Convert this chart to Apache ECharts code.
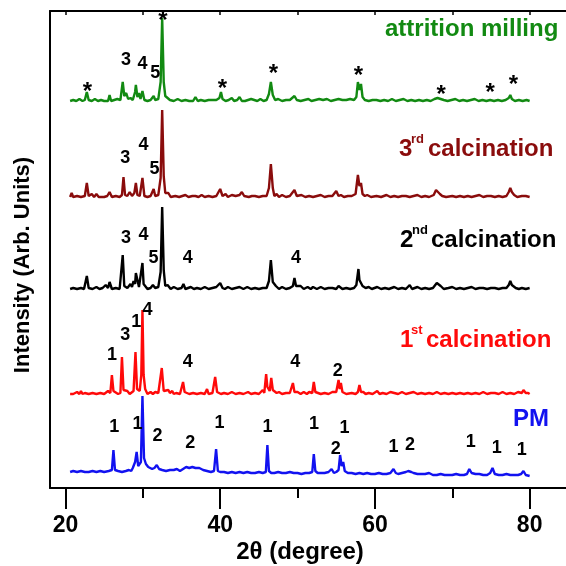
<!DOCTYPE html>
<html>
<head>
<meta charset="utf-8">
<script src="https://cdn.jsdelivr.net/npm/echarts@6/dist/echarts.min.js"></script>
<style>
  html, body { margin: 0; padding: 0; background: #fff; }
  #main { width: 566px; height: 566px; }
</style>
</head>
<body>
<div id="main"></div>
<script>
// 各曲线的基线偏移（Arb. Units）
const offsets = { milling: 386, third: 290, second: 198, first: 93, pm: 12 }

// 衍射数据 [2θ, 强度]
const millingPts = [[20.6,1],[21,2],[21.4,1],[21.8,3],[22.2,1],[22.5,2],[22.76,10],[23.0,2],[23.4,1],[23.8,3],[24.2,1],[24.6,2],[25.0,1],[25.5,1],[25.7,7],[25.9,1],[26.3,2],[26.7,3],[27.1,2],[27.4,20],[27.6,6],[27.85,9],[28.1,3],[28.4,4],[28.7,2],[29.0,10],[29.1,17],[29.3,5],[29.5,9],[29.7,3],[29.95,11],[30.2,2],[30.6,1],[31.0,2],[31.4,6],[31.6,2],[32.0,3],[32.3,20],[32.5,84],[32.7,20],[32.9,6],[33.2,4],[33.5,2],[34.0,1],[34.5,3],[35.0,1],[35.5,2],[36.0,1],[36.5,1],[36.8,5],[37.1,1],[37.5,2],[38.0,1],[38.5,2],[39.0,2],[39.5,2],[39.9,4],[40.1,10],[40.3,3],[40.7,1],[41.1,2],[41.5,4],[41.8,1],[42.2,2],[42.5,5],[42.8,1],[43.2,1],[43.6,2],[44.0,3],[44.4,2],[44.8,1],[45.2,3],[45.6,1],[46.0,2],[46.3,8],[46.55,20],[46.8,7],[47.1,2],[47.5,3],[48.0,1],[48.5,2],[49.0,2],[49.6,6],[49.9,2],[50.4,1],[50.9,2],[51.4,3],[51.8,1],[52.3,2],[52.8,3],[53.3,2],[53.8,3],[54.3,1],[54.8,2],[55.3,3],[55.8,2],[56.3,2],[56.8,3],[57.3,2],[57.6,5],[57.8,20],[58.0,12],[58.2,18],[58.4,5],[58.7,2],[59.2,1],[59.7,2],[60.2,2],[60.7,1],[61.2,2],[61.7,1],[62.2,3],[62.7,1],[63.2,2],[63.7,3],[64.2,1],[64.7,2],[65.2,1],[65.7,2],[66.2,1],[66.7,2],[67.2,1],[67.7,3],[68.1,4],[68.5,3],[68.9,2],[69.4,1],[69.9,2],[70.4,3],[70.9,1],[71.4,2],[71.9,1],[72.4,2],[72.9,3],[73.4,1],[73.9,2],[74.4,1],[74.9,2],[75.4,1],[75.9,2],[76.4,1],[76.9,2],[77.3,4],[77.5,7],[77.7,3],[78.1,1],[78.6,2],[79.1,1],[79.6,2],[80.0,1]]

const thirdPts = [[20.6,1],[20.8,5],[21.0,1],[21.5,2],[22.0,1],[22.5,2],[22.76,15],[23.0,2],[23.4,4],[23.7,1],[24.0,4],[24.3,1],[24.5,3],[25.0,1],[25.4,2],[25.7,6],[26.0,1],[26.5,2],[27.0,1],[27.3,3],[27.5,21],[27.7,3],[28.0,2],[28.3,6],[28.6,2],[28.9,5],[29.1,15],[29.3,3],[29.6,2],[29.95,20],[30.2,2],[30.6,1],[31.0,2],[31.4,9],[31.6,2],[32.0,3],[32.3,20],[32.5,88],[32.7,22],[32.9,5],[33.3,5],[33.6,1],[34.2,2],[34.7,1],[35.1,2],[35.5,3],[35.9,1],[36.4,2],[36.8,2],[37.2,1],[37.6,3],[38.0,1],[38.5,2],[39.0,1],[39.5,2],[40.0,9],[40.3,2],[40.7,4],[41.0,1],[41.5,3],[42.0,2],[42.5,3],[42.8,6],[43.1,2],[43.3,3],[43.7,1],[44.1,2],[44.5,2],[45.0,1],[45.5,2],[46.0,2],[46.3,10],[46.55,34],[46.8,10],[47.0,2],[47.3,4],[47.6,1],[48.0,3],[48.5,1],[49.0,2],[49.6,8],[49.9,2],[50.5,3],[51.0,1],[51.5,2],[52.0,1],[52.5,2],[53.0,3],[53.5,1],[54.0,2],[54.5,2],[55.0,7],[55.3,2],[55.6,3],[56.0,1],[56.5,2],[57.0,2],[57.5,4],[57.8,23],[58.0,12],[58.2,15],[58.4,4],[58.7,2],[59.0,3],[59.5,1],[60.2,2],[60.8,1],[61.5,3],[62.0,1],[62.5,2],[63.0,1],[63.5,2],[64.0,2],[64.5,1],[65.0,2],[65.5,3],[66.0,1],[66.5,2],[67.0,1],[67.6,3],[67.9,8],[68.1,10],[68.4,4],[68.7,2],[69.2,1],[70.0,2],[70.5,1],[71.0,2],[71.5,1],[72.0,2],[72.5,1],[73.0,2],[73.5,3],[74.0,1],[74.5,2],[75.0,2],[75.5,1],[76.0,2],[76.5,1],[77.0,2],[77.3,6],[77.5,10],[77.7,6],[78.0,3],[78.4,1],[79.0,2],[79.5,2],[80.0,1]]

const secondPts = [[20.6,1],[21.0,2],[21.5,1],[22.0,2],[22.4,1],[22.6,3],[22.76,14],[23.0,2],[23.5,1],[24.0,3],[24.4,1],[24.8,2],[25.2,5],[25.5,2],[25.7,8],[26.0,1],[26.5,2],[27.0,1],[27.2,3],[27.4,35],[27.6,4],[28.0,2],[28.4,6],[28.6,3],[28.8,9],[29.0,6],[29.1,17],[29.3,10],[29.5,3],[29.7,4],[29.95,27],[30.1,6],[30.3,5],[30.6,1],[31.0,2],[31.3,5],[31.6,2],[32.0,3],[32.3,18],[32.5,83],[32.7,20],[32.9,4],[33.2,5],[33.6,1],[34.0,3],[34.5,1],[35.0,2],[35.25,6],[35.5,1],[36.2,3],[36.6,1],[37.0,2],[37.5,1],[38.0,3],[38.5,1],[39.0,2],[39.5,3],[40.0,7],[40.3,2],[40.6,1],[41.0,3],[41.5,1],[42.0,2],[42.5,3],[43.0,1],[43.5,3],[44.0,1],[44.5,2],[45.0,1],[45.5,2],[46.0,2],[46.3,9],[46.55,30],[46.8,8],[47.2,4],[47.6,1],[48.0,3],[48.5,1],[49.0,2],[49.4,4],[49.6,12],[49.8,4],[50.4,4],[50.8,1],[51.3,3],[51.7,1],[52.0,3],[52.5,1],[53.0,3],[53.5,1],[54.0,2],[54.5,2],[55.0,1],[55.3,4],[55.8,1],[56.3,2],[56.8,1],[57.3,2],[57.6,5],[57.87,21],[58.0,10],[58.2,12],[58.4,4],[58.8,2],[59.2,3],[59.6,1],[60.3,3],[60.8,1],[61.3,2],[61.8,1],[62.5,3],[63.0,1],[63.5,2],[64.0,1],[64.5,5],[64.8,1],[65.5,3],[66.0,1],[66.5,2],[67.0,1],[67.5,2],[68.0,7],[68.2,5],[68.5,4],[68.9,1],[69.5,2],[70.0,3],[70.5,1],[71.0,2],[71.5,1],[72.0,2],[72.5,3],[73.0,1],[73.5,2],[74.0,2],[74.5,1],[75.0,2],[75.5,2],[76.0,1],[76.5,2],[77.0,2],[77.3,5],[77.5,9],[77.7,5],[77.9,5],[78.2,2],[78.6,1],[79.0,2],[79.5,1],[80.0,2]]

const firstPts = [[20.6,1],[20.8,3],[21.0,1],[21.5,3],[21.8,1],[22.0,4],[22.2,1],[22.5,2],[23.0,1],[23.5,2],[24.0,1],[24.5,2],[25.0,1],[25.5,4],[25.8,2],[26.0,20],[26.2,4],[26.4,3],[26.8,1],[27.1,2],[27.3,38],[27.5,5],[27.7,5],[28.0,4],[28.3,1],[28.5,3],[28.8,4],[29.05,43],[29.25,6],[29.4,6],[29.6,4],[29.8,20],[29.95,85],[30.1,20],[30.3,6],[30.6,1],[31.0,3],[31.3,1],[31.6,3],[32.0,2],[32.2,4],[32.45,27],[32.7,4],[32.9,4],[33.3,5],[33.5,2],[33.8,4],[34.0,1],[34.3,2],[34.8,1],[35.0,3],[35.2,13],[35.4,3],[35.6,3],[36.0,1],[36.5,2],[37.0,1],[37.5,2],[38.0,1],[38.3,6],[38.5,1],[39.0,2],[39.35,18],[39.6,3],[39.8,4],[40.1,1],[40.5,2],[41.0,1],[41.5,3],[42.0,1],[42.5,2],[43.0,1],[43.6,3],[44.0,1],[44.5,2],[45.0,1],[45.5,5],[45.7,2],[45.94,21],[46.1,8],[46.2,8],[46.4,4],[46.6,17],[46.8,5],[47.0,5],[47.3,2],[47.6,3],[48.0,1],[48.5,2],[49.0,2],[49.4,12],[49.6,3],[50.0,3],[50.4,1],[50.8,3],[51.2,1],[51.5,3],[51.9,2],[52.1,13],[52.3,3],[52.5,3],[53.0,1],[53.5,2],[54.0,1],[54.5,3],[55.0,3],[55.3,15],[55.45,6],[55.6,12],[55.8,3],[56.0,5],[56.3,1],[56.5,3],[57.0,2],[57.5,1],[57.8,3],[58.0,10],[58.2,3],[58.5,3],[58.8,1],[59.2,2],[59.7,1],[60.3,4],[60.6,1],[61.0,2],[61.5,1],[62.0,3],[62.5,2],[63.0,1],[63.5,3],[64.0,1],[64.5,2],[65.0,3],[65.5,1],[66.0,2],[66.5,1],[67.0,2],[67.5,1],[68.0,3],[68.5,1],[69.0,2],[69.5,1],[70.0,2],[70.5,1],[71.0,2],[71.5,1],[72.0,2],[72.2,4],[72.5,1],[73.0,2],[73.5,1],[74.0,3],[74.5,1],[75.0,2],[75.5,2],[76.0,1],[76.5,3],[77.0,1],[77.5,2],[78.0,1],[78.5,3],[79.0,2],[79.2,5],[79.5,2],[79.8,2],[80.0,1]]

const pmPts = [[20.6,4],[21.0,5],[21.5,4],[22.0,5],[22.5,4],[23.0,4],[23.5,5],[24.0,4],[24.5,5],[25.0,4],[25.6,5],[26.0,6],[26.2,26],[26.4,6],[26.8,5],[27.3,4],[27.8,5],[28.2,6],[28.5,5],[28.7,8],[29.0,14],[29.2,24],[29.4,10],[29.6,10],[29.75,14],[29.95,80],[30.15,18],[30.4,12],[30.7,9],[31.2,7],[31.5,8],[31.8,11],[32.1,7],[32.5,6],[33.0,5],[33.5,6],[34.0,6],[34.4,7],[34.8,5],[35.2,7],[35.6,9],[36.0,8],[36.4,9],[36.8,8],[37.3,8],[37.8,6],[38.3,5],[38.8,4],[39.2,5],[39.47,27],[39.7,5],[40.0,4],[40.5,4],[41.0,3],[41.5,4],[42.0,3],[42.5,4],[43.0,3],[43.5,4],[44.0,3],[44.5,3],[45.0,4],[45.5,3],[45.9,4],[46.1,31],[46.3,5],[46.6,3],[47.0,3],[47.5,4],[48.0,3],[48.5,3],[49.0,4],[49.5,3],[50.0,3],[50.5,2],[51.0,3],[51.5,3],[51.9,4],[52.1,22],[52.3,5],[52.6,3],[53.0,3],[53.5,3],[54.0,4],[54.4,7],[54.7,3],[55.0,4],[55.3,6],[55.5,21],[55.7,10],[55.9,14],[56.1,5],[56.5,3],[57.0,3],[57.5,2],[58.0,3],[58.5,2],[59.0,3],[59.5,2],[60.0,2],[60.5,3],[61.0,2],[61.5,2],[62.0,3],[62.4,7],[62.7,3],[63.0,2],[63.5,3],[64.0,4],[64.3,5],[64.7,4],[65.0,3],[65.5,2],[66.0,2],[66.5,2],[67.0,3],[67.5,1],[68.0,1],[68.5,2],[69.0,1],[69.5,1],[70.0,1],[70.5,2],[71.0,1],[71.5,1],[71.9,2],[72.2,7],[72.5,3],[73.0,2],[73.5,2],[74.0,1],[74.5,1],[74.9,3],[75.2,8],[75.5,2],[76.0,1],[76.5,1],[77.0,2],[77.5,1],[78.0,1],[78.5,1],[78.9,2],[79.2,5],[79.5,1],[80.0,0]]

// 峰标注 [2θ, 位置, 文字]
const peakLabels = [
  [27.84,428,'3'],[29.95,424,'4'],[31.59,415,'5'],
  [27.72,330,'3'],[30.08,343,'4'],[31.5,319,'5'],
  [27.81,250,'3'],[30.08,253,'4'],[31.37,230,'5'],[35.82,230,'4'],[49.81,230,'4'],
  [26.0,133,'1'],[27.72,153,'3'],[29.14,166,'1'],[30.6,178,'4'],[35.82,126,'4'],[49.69,126,'4'],[55.2,117,'2'],
  [26.29,61,'1'],[29.3,64,'1'],[31.89,52,'2'],[36.12,45,'2'],[39.9,65,'1'],[46.1,61,'1'],[52.14,64,'1'],
  [54.94,39,'2'],[56.06,60,'1'],[62.39,41,'1'],[64.55,43,'2'],[72.39,46,'1'],[75.75,40,'1'],[78.98,38,'1']
]
// 星号标注 [2θ, 位置]
const starLabels = [[22.84,402],[32.59,473],[40.29,405],[46.88,420],[57.87,418],[68.55,399],[74.89,401],[77.9,409]]

// 坐标轴刻度
const majorTicks = [20, 40, 60, 80]
const minorTicks = [30, 50, 70]
const topTicks = [20, 30, 40, 50, 60, 70, 80]

const FONT = '"Liberation Sans", Arial, sans-serif'

// 加上基线偏移
const lift = (pts, off) => pts.map(p => [p[0], p[1] + off])

const chart = echarts.init(document.getElementById('main'))

const traceSeries = (name, pts, off, color) => ({
  name: name,
  type: 'line',
  data: lift(pts, off),
  showSymbol: false,
  silent: true,
  animation: false,
  lineStyle: { color: color, width: 2.4 },
  z: 3
})

const labelSeries = (data, text, size, offset) => ({
  type: 'scatter', silent: true, symbolSize: 0, z: 5,
  itemStyle: { opacity: 1 },
  data: data,
  label: {
    show: true, position: 'inside', offset: offset,
    formatter: text,
    color: '#000', opacity: 1, fontSize: size, fontWeight: 'bold', fontFamily: FONT
  }
})

const options = {
  animation: false,
  grid: { left: 50, top: 11, right: -41, bottom: 78, outerBoundsMode: 'none', containLabel: false },
  xAxis: [
    {
      // 底部主刻度
      type: 'value', min: 18, max: 90, position: 'bottom',
      axisLine: { show: true, lineStyle: { color: '#000', width: 2 } },
      axisTick: { show: true, customValues: majorTicks, length: 21, lineStyle: { color: '#000', width: 2 } },
      axisLabel: { show: true, customValues: majorTicks, margin: 26, color: '#000', fontSize: 23, fontWeight: 'bold', fontFamily: FONT },
      splitLine: { show: false }
    },
    {
      // 底部次刻度
      type: 'value', min: 18, max: 90, position: 'bottom',
      axisLine: { show: false },
      axisTick: { show: true, customValues: minorTicks, length: 10, lineStyle: { color: '#000', width: 2 } },
      axisLabel: { show: false },
      splitLine: { show: false }
    },
    {
      // 顶部边框
      type: 'value', min: 18, max: 90, position: 'top',
      axisLine: { show: true, lineStyle: { color: '#000', width: 2 } },
      axisTick: { show: true, inside: true, customValues: topTicks, length: 4, lineStyle: { color: '#000', width: 1.5 } },
      axisLabel: { show: false },
      splitLine: { show: false }
    }
  ],
  yAxis: {
    type: 'value', min: 0, max: 477,
    axisLine: { show: true, lineStyle: { color: '#000', width: 2 } },
    axisTick: { show: false },
    axisLabel: { show: false },
    splitLine: { show: false }
  },
  series: [
    traceSeries('PM', pmPts, offsets.pm, '#1212f0'),
    traceSeries('1st', firstPts, offsets.first, '#ff0a0a'),
    traceSeries('2nd', secondPts, offsets.second, '#000000'),
    traceSeries('3rd', thirdPts, offsets.third, '#8a0c0c'),
    traceSeries('milling', millingPts, offsets.milling, '#128a12'),
    labelSeries(peakLabels, p => p.data[2], 18, [0, 0]),
    labelSeries(starLabels, '*', 24, [0, 6])
  ],
  graphic: [
    // 坐标轴标题
    { type: 'text', x: 300, y: 552, style: { text: '2θ (degree)', align: 'center', verticalAlign: 'middle', font: 'bold 24px ' + FONT, fill: '#000' } },
    { type: 'text', x: 23, y: 265, rotation: Math.PI / 2, style: { text: 'Intensity (Arb. Units)', align: 'center', verticalAlign: 'middle', font: 'bold 22px ' + FONT, fill: '#000' } },
    // 曲线名称
    { type: 'text', x: 385, y: 29, style: { text: 'attrition milling', verticalAlign: 'middle', font: 'bold 24px ' + FONT, fill: '#128a12' } },
    { type: 'text', x: 399, y: 149, style: { text: '3', verticalAlign: 'middle', font: 'bold 24px ' + FONT, fill: '#8a0c0c' } },
    { type: 'text', x: 411, y: 139, style: { text: 'rd', verticalAlign: 'middle', font: 'bold 13px ' + FONT, fill: '#8a0c0c' } },
    { type: 'text', x: 428, y: 149, style: { text: 'calcination', verticalAlign: 'middle', font: 'bold 24px ' + FONT, fill: '#8a0c0c' } },
    { type: 'text', x: 400, y: 240, style: { text: '2', verticalAlign: 'middle', font: 'bold 24px ' + FONT, fill: '#000' } },
    { type: 'text', x: 412, y: 230, style: { text: 'nd', verticalAlign: 'middle', font: 'bold 13px ' + FONT, fill: '#000' } },
    { type: 'text', x: 431, y: 240, style: { text: 'calcination', verticalAlign: 'middle', font: 'bold 24px ' + FONT, fill: '#000' } },
    { type: 'text', x: 400, y: 340, style: { text: '1', verticalAlign: 'middle', font: 'bold 24px ' + FONT, fill: '#ff0a0a' } },
    { type: 'text', x: 411, y: 330, style: { text: 'st', verticalAlign: 'middle', font: 'bold 13px ' + FONT, fill: '#ff0a0a' } },
    { type: 'text', x: 426, y: 340, style: { text: 'calcination', verticalAlign: 'middle', font: 'bold 24px ' + FONT, fill: '#ff0a0a' } },
    { type: 'text', x: 513, y: 419, style: { text: 'PM', verticalAlign: 'middle', font: 'bold 24px ' + FONT, fill: '#1212f0' } }
  ]
}
chart.setOption(options)
</script>
</body>
</html>
